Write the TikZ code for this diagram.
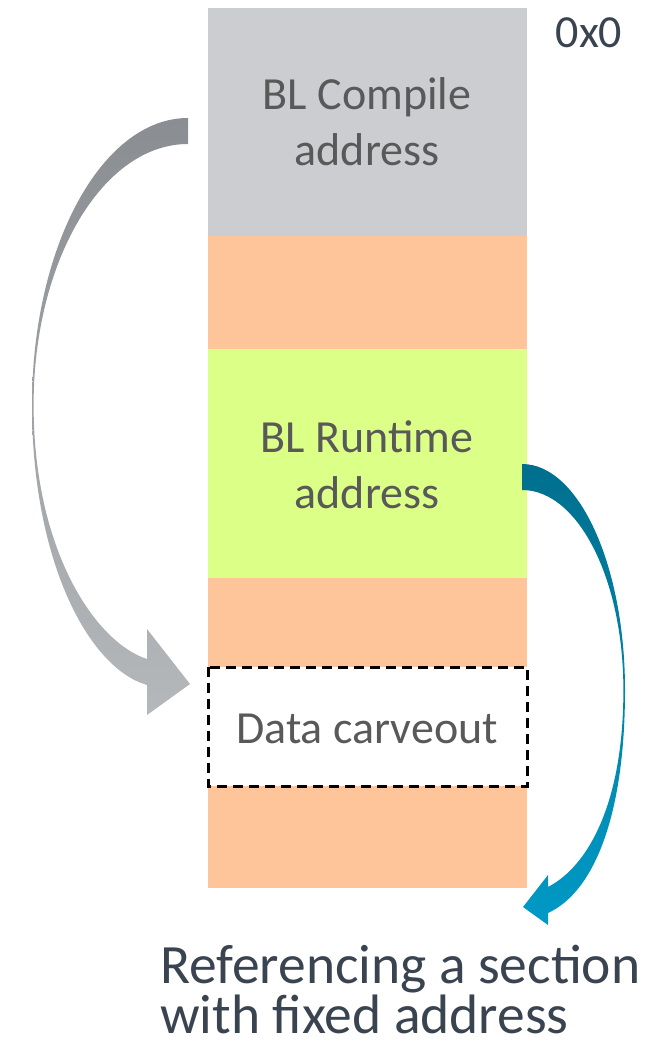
\documentclass[tikz,border=0pt]{standalone}
\usepackage{fontspec}
\setmainfont{Carlito}
\definecolor{cgray}{HTML}{CBCDD0}
\definecolor{corange}{HTML}{FEC59A}
\definecolor{cgreen}{HTML}{DCFF87}
\definecolor{ctext}{HTML}{595959}
\definecolor{cdark}{HTML}{3A4450}
\definecolor{agtop}{HTML}{8A8E93}
\definecolor{agbot}{HTML}{B4B8BB}
\definecolor{abtop}{HTML}{006F8E}
\definecolor{abbot}{HTML}{0099C6}
\begin{document}
\begin{tikzpicture}[x=1pt,y=-1pt,
  region/.style={inner sep=0pt, outer sep=0pt, anchor=north west, minimum width=319pt},
  lbl/.style={text=ctext, font=\fontsize{46}{56}\selectfont, anchor=base, inner sep=0pt},
  big/.style={text=cdark, font=\fontsize{55.5}{66}\selectfont, anchor=base west, inner sep=0pt, text depth=0pt},
  dashbox/.style={draw=black, line width=3pt, dash pattern=on 10pt off 6pt}]
\useasboundingbox (0,0) rectangle (664,1043);
% column
\node[region, fill=cgray, minimum height=228pt] (compile) at (208,8) {};
\node[region, fill=corange, minimum height=113pt] (gap1) at (208,236) {};
\node[region, fill=cgreen, minimum height=229pt] (runtime) at (208,349) {};
\node[region, fill=corange, minimum height=89pt] (gap2) at (208,578) {};
\node[region, fill=corange, minimum height=102pt] (gap3) at (208,786) {};
\node[region, minimum height=119pt] (carve) at (208,667) {};
\draw[dashbox] (carve.north west) rectangle (carve.south east);
% labels
\node[lbl] (t1a) at (367,110) {BL Compile};
\node[lbl] (t1b) at (367,166) {address};
\node[lbl] (t2a) at (367,452) {BL Runtime};
\node[lbl] (t2b) at (367,508) {address};
\node[lbl] (t3) at (367,743) {Data carveout};
\node[lbl, text=cdark] (t0) at (589,48) {0x0};
\node[big] (r1) at (160,983) {Referencing a section};
\node[big] (r2) at (160,1033) {with fixed address};
% gray curved arrow
\shade[top color=agtop, bottom color=agbot]
  (188,118) .. controls (101.8,118) and (32,246.5) .. (32,405)
  .. controls (32,560) and (88,668) .. (147,685)
  -- (147,715) -- (190,684) -- (147,629) -- (147,659)
  .. controls (95,642) and (33.6,550) .. (33.6,405)
  .. controls (33.6,260.9) and (102.4,144) .. (188,144) -- cycle;
% blue curved arrow
\shade[top color=abtop, bottom color=abbot]
  (522,464) .. controls (578.9,464) and (625,565.7) .. (625,690)
  .. controls (625,820) and (592,893) .. (548,913)
  -- (548,925) -- (523,907) -- (548,875) -- (548,887)
  .. controls (590,865) and (623.4,800) .. (623.4,690)
  .. controls (623.4,579.5) and (578.3,490) .. (522,490) -- cycle;
\end{tikzpicture}
\end{document}
